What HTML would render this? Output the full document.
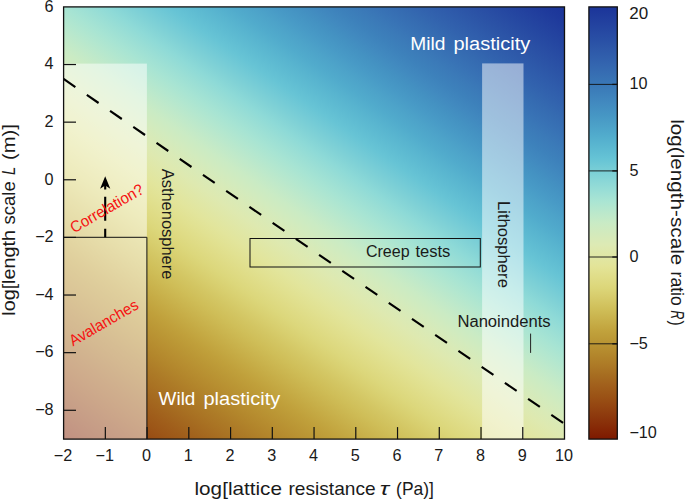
<!DOCTYPE html>
<html><head><meta charset="utf-8"><title>Chart</title>
<style>html,body{margin:0;padding:0;background:#fff}svg{display:block}text{font-family:"Liberation Sans",sans-serif}</style></head>
<body>
<svg width="685" height="500" viewBox="0 0 685 500">
<defs>
<linearGradient id="hg" gradientUnits="userSpaceOnUse" x1="63.60" y1="439.10" x2="427.31" y2="-87.80"><stop offset="0.0000" stop-color="#832104"/><stop offset="0.0185" stop-color="#872c08"/><stop offset="0.0370" stop-color="#8c370c"/><stop offset="0.0556" stop-color="#914110"/><stop offset="0.0741" stop-color="#974b13"/><stop offset="0.0926" stop-color="#9c5517"/><stop offset="0.1111" stop-color="#a05e1b"/><stop offset="0.1296" stop-color="#a4681f"/><stop offset="0.1481" stop-color="#a97223"/><stop offset="0.1667" stop-color="#ad7b27"/><stop offset="0.1852" stop-color="#b2852b"/><stop offset="0.2037" stop-color="#b78e30"/><stop offset="0.2222" stop-color="#bb9735"/><stop offset="0.2407" stop-color="#c0a03b"/><stop offset="0.2593" stop-color="#c5aa44"/><stop offset="0.2778" stop-color="#cab44e"/><stop offset="0.2963" stop-color="#cfbe58"/><stop offset="0.3148" stop-color="#d3c663"/><stop offset="0.3333" stop-color="#d8cf6f"/><stop offset="0.3519" stop-color="#dcd77b"/><stop offset="0.3704" stop-color="#dfdc86"/><stop offset="0.3889" stop-color="#e1e191"/><stop offset="0.4074" stop-color="#e2e59c"/><stop offset="0.4259" stop-color="#e0e7a6"/><stop offset="0.4444" stop-color="#dee9b0"/><stop offset="0.4630" stop-color="#d9eab7"/><stop offset="0.4815" stop-color="#d2ebbe"/><stop offset="0.5000" stop-color="#caebc4"/><stop offset="0.5185" stop-color="#bfe9ca"/><stop offset="0.5370" stop-color="#b3e7cf"/><stop offset="0.5556" stop-color="#a7e4d3"/><stop offset="0.5741" stop-color="#9bdfd5"/><stop offset="0.5926" stop-color="#8edad7"/><stop offset="0.6111" stop-color="#81d2d6"/><stop offset="0.6296" stop-color="#74cbd6"/><stop offset="0.6481" stop-color="#67c4d5"/><stop offset="0.6667" stop-color="#5fbcd2"/><stop offset="0.6852" stop-color="#58b4cf"/><stop offset="0.7037" stop-color="#51abcc"/><stop offset="0.7222" stop-color="#4da3c9"/><stop offset="0.7407" stop-color="#489ac6"/><stop offset="0.7593" stop-color="#4492c2"/><stop offset="0.7778" stop-color="#4189bf"/><stop offset="0.7963" stop-color="#3d81bb"/><stop offset="0.8148" stop-color="#3b7ab8"/><stop offset="0.8333" stop-color="#3872b5"/><stop offset="0.8519" stop-color="#356bb1"/><stop offset="0.8704" stop-color="#3263ae"/><stop offset="0.8889" stop-color="#2f5cab"/><stop offset="0.9074" stop-color="#2c55a7"/><stop offset="0.9259" stop-color="#294ea4"/><stop offset="0.9444" stop-color="#2547a1"/><stop offset="0.9630" stop-color="#22409e"/><stop offset="0.9815" stop-color="#1e399b"/><stop offset="1.0000" stop-color="#1b3499"/></linearGradient>
<linearGradient id="cg" gradientUnits="userSpaceOnUse" x1="0" y1="439.10" x2="0" y2="6.90"><stop offset="0.000" stop-color="#7e1900"/><stop offset="0.025" stop-color="#862806"/><stop offset="0.050" stop-color="#8c370c"/><stop offset="0.075" stop-color="#944511"/><stop offset="0.100" stop-color="#9b5316"/><stop offset="0.125" stop-color="#a1601c"/><stop offset="0.150" stop-color="#a76e21"/><stop offset="0.175" stop-color="#ae7c27"/><stop offset="0.200" stop-color="#b4892d"/><stop offset="0.225" stop-color="#ba9634"/><stop offset="0.250" stop-color="#c1a23c"/><stop offset="0.275" stop-color="#c8b04a"/><stop offset="0.300" stop-color="#cfbe58"/><stop offset="0.325" stop-color="#d6ca69"/><stop offset="0.350" stop-color="#dcd679"/><stop offset="0.375" stop-color="#e0dd88"/><stop offset="0.400" stop-color="#e3e498"/><stop offset="0.425" stop-color="#e0e7a6"/><stop offset="0.450" stop-color="#ddeab4"/><stop offset="0.475" stop-color="#d3eabc"/><stop offset="0.500" stop-color="#c9ebc5"/><stop offset="0.525" stop-color="#bae8cc"/><stop offset="0.550" stop-color="#aae5d3"/><stop offset="0.575" stop-color="#99ded6"/><stop offset="0.600" stop-color="#88d6d7"/><stop offset="0.625" stop-color="#76cdd6"/><stop offset="0.650" stop-color="#65c3d5"/><stop offset="0.675" stop-color="#5bb8d1"/><stop offset="0.700" stop-color="#52adcd"/><stop offset="0.725" stop-color="#4ca1c8"/><stop offset="0.750" stop-color="#4696c4"/><stop offset="0.775" stop-color="#428bc0"/><stop offset="0.800" stop-color="#3d80bb"/><stop offset="0.825" stop-color="#3976b6"/><stop offset="0.850" stop-color="#366cb2"/><stop offset="0.875" stop-color="#3262ae"/><stop offset="0.900" stop-color="#2e59a9"/><stop offset="0.925" stop-color="#294fa5"/><stop offset="0.950" stop-color="#2546a1"/><stop offset="0.975" stop-color="#203d9d"/><stop offset="1.000" stop-color="#1b3499"/></linearGradient>
</defs>
<rect x="0" y="0" width="685" height="500" fill="#fff"/>
<rect x="63.60" y="6.90" width="500.90" height="432.20" fill="url(#hg)"/>
<rect x="63.60" y="63.60" width="83.30" height="173.70" fill="#fff" fill-opacity="0.5"/>
<rect x="63.60" y="237.30" width="83.30" height="201.80" fill="#fff" fill-opacity="0.5"/>
<path d="M63.60 237.3 H146.9 V439.10" fill="none" stroke="#111" stroke-width="1"/>
<rect x="482.10" y="63.40" width="41.40" height="375.70" fill="#fff" fill-opacity="0.5"/>
<rect x="250.00" y="238.50" width="230.30" height="28.50" fill="none" stroke="#111" stroke-width="1"/>
<line x1="63.60" y1="78.90" x2="564.50" y2="423.90" stroke="#000" stroke-width="2.15" stroke-dasharray="14.3 13.9"/>
<path d="M105.2 185 V189.5 M105.2 196.7 V220.7 M105.2 228.8 V237.3" stroke="#000" stroke-width="2.1" fill="none"/>
<path d="M105.2 176.3 L110.3 188.8 L105.2 185.6 L100.1 188.8 Z" fill="#000"/>
<line x1="530.6" y1="333.6" x2="530.6" y2="352.9" stroke="#222" stroke-width="1"/>
<text x="410.20" y="49.50" font-size="18" fill="#fff" textLength="35.19" lengthAdjust="spacingAndGlyphs">Mild</text>
<text x="453.50" y="49.50" font-size="18" fill="#fff" textLength="76.71" lengthAdjust="spacingAndGlyphs">plasticity</text>
<text x="158.60" y="404.50" font-size="18" fill="#fff" textLength="36.81" lengthAdjust="spacingAndGlyphs">Wild</text>
<text x="203.50" y="404.50" font-size="18" fill="#fff" textLength="76.71" lengthAdjust="spacingAndGlyphs">plasticity</text>
<text x="365.90" y="256.50" font-size="15.8" fill="#1a1a1a" textLength="43.69" lengthAdjust="spacingAndGlyphs">Creep</text>
<text x="415.40" y="256.50" font-size="15.8" fill="#1a1a1a" textLength="35.00" lengthAdjust="spacingAndGlyphs">tests</text>
<text x="457.40" y="326.60" font-size="15.8" fill="#1a1a1a" textLength="93.30" lengthAdjust="spacingAndGlyphs">Nanoindents</text>
<text transform="translate(497.50 201.00) rotate(90)" x="-0.00" y="0" font-size="15.8" fill="#1a1a1a" textLength="86.90" lengthAdjust="spacingAndGlyphs">Lithosphere</text>
<text transform="translate(162.30 168.70) rotate(90)" x="-0.00" y="0" font-size="15.8" fill="#1a1a1a" textLength="110.70" lengthAdjust="spacingAndGlyphs">Asthenosphere</text>
<text x="74.00" y="233.50" font-size="15.8" fill="#f51212" text-anchor="start" textLength="82.00" lengthAdjust="spacingAndGlyphs" transform="rotate(-30 74.00 233.50)">Correlation?</text>
<text x="73.00" y="346.50" font-size="15.8" fill="#f51212" text-anchor="start" textLength="77.00" lengthAdjust="spacingAndGlyphs" transform="rotate(-30 73.00 346.50)">Avalanches</text>
<rect x="63.60" y="6.90" width="500.90" height="432.20" fill="none" stroke="#111" stroke-width="1.3"/>
<line x1="105.34" y1="439.10" x2="105.34" y2="427.10" stroke="#111" stroke-width="1.2"/>
<line x1="147.08" y1="439.10" x2="147.08" y2="427.10" stroke="#111" stroke-width="1.2"/>
<line x1="188.82" y1="439.10" x2="188.82" y2="427.10" stroke="#111" stroke-width="1.2"/>
<line x1="230.57" y1="439.10" x2="230.57" y2="427.10" stroke="#111" stroke-width="1.2"/>
<line x1="272.31" y1="439.10" x2="272.31" y2="427.10" stroke="#111" stroke-width="1.2"/>
<line x1="314.05" y1="439.10" x2="314.05" y2="427.10" stroke="#111" stroke-width="1.2"/>
<line x1="355.79" y1="439.10" x2="355.79" y2="427.10" stroke="#111" stroke-width="1.2"/>
<line x1="397.53" y1="439.10" x2="397.53" y2="427.10" stroke="#111" stroke-width="1.2"/>
<line x1="439.28" y1="439.10" x2="439.28" y2="427.10" stroke="#111" stroke-width="1.2"/>
<line x1="481.02" y1="439.10" x2="481.02" y2="427.10" stroke="#111" stroke-width="1.2"/>
<line x1="522.76" y1="439.10" x2="522.76" y2="427.10" stroke="#111" stroke-width="1.2"/>
<line x1="63.60" y1="410.29" x2="76.00" y2="410.29" stroke="#111" stroke-width="1.2"/>
<line x1="63.60" y1="352.66" x2="76.00" y2="352.66" stroke="#111" stroke-width="1.2"/>
<line x1="63.60" y1="295.03" x2="76.00" y2="295.03" stroke="#111" stroke-width="1.2"/>
<line x1="63.60" y1="237.41" x2="76.00" y2="237.41" stroke="#111" stroke-width="1.2"/>
<line x1="63.60" y1="179.78" x2="76.00" y2="179.78" stroke="#111" stroke-width="1.2"/>
<line x1="63.60" y1="122.15" x2="76.00" y2="122.15" stroke="#111" stroke-width="1.2"/>
<line x1="63.60" y1="64.53" x2="76.00" y2="64.53" stroke="#111" stroke-width="1.2"/>
<text x="63.10" y="461.30" font-size="16.2" fill="#1a1a1a" text-anchor="middle">−2</text>
<text x="104.84" y="461.30" font-size="16.2" fill="#1a1a1a" text-anchor="middle">−1</text>
<text x="146.58" y="461.30" font-size="16.2" fill="#1a1a1a" text-anchor="middle">0</text>
<text x="188.32" y="461.30" font-size="16.2" fill="#1a1a1a" text-anchor="middle">1</text>
<text x="230.07" y="461.30" font-size="16.2" fill="#1a1a1a" text-anchor="middle">2</text>
<text x="271.81" y="461.30" font-size="16.2" fill="#1a1a1a" text-anchor="middle">3</text>
<text x="313.55" y="461.30" font-size="16.2" fill="#1a1a1a" text-anchor="middle">4</text>
<text x="355.29" y="461.30" font-size="16.2" fill="#1a1a1a" text-anchor="middle">5</text>
<text x="397.03" y="461.30" font-size="16.2" fill="#1a1a1a" text-anchor="middle">6</text>
<text x="438.78" y="461.30" font-size="16.2" fill="#1a1a1a" text-anchor="middle">7</text>
<text x="480.52" y="461.30" font-size="16.2" fill="#1a1a1a" text-anchor="middle">8</text>
<text x="522.26" y="461.30" font-size="16.2" fill="#1a1a1a" text-anchor="middle">9</text>
<text x="564.00" y="461.30" font-size="16.2" fill="#1a1a1a" text-anchor="middle">10</text>
<text x="53.60" y="415.09" font-size="16.2" fill="#1a1a1a" text-anchor="end">−8</text>
<text x="53.60" y="357.46" font-size="16.2" fill="#1a1a1a" text-anchor="end">−6</text>
<text x="53.60" y="299.83" font-size="16.2" fill="#1a1a1a" text-anchor="end">−4</text>
<text x="53.60" y="242.21" font-size="16.2" fill="#1a1a1a" text-anchor="end">−2</text>
<text x="53.60" y="184.58" font-size="16.2" fill="#1a1a1a" text-anchor="end">0</text>
<text x="53.60" y="126.95" font-size="16.2" fill="#1a1a1a" text-anchor="end">2</text>
<text x="53.60" y="69.33" font-size="16.2" fill="#1a1a1a" text-anchor="end">4</text>
<text x="53.60" y="11.70" font-size="16.2" fill="#1a1a1a" text-anchor="end">6</text>
<text x="194.50" y="494.80" font-size="19" fill="#1a1a1a" textLength="87.49" lengthAdjust="spacingAndGlyphs">log[lattice</text>
<text x="288.50" y="494.80" font-size="19" fill="#1a1a1a" textLength="87.09" lengthAdjust="spacingAndGlyphs">resistance</text>
<text x="379.70" y="494.80" font-size="19" fill="#1a1a1a" textLength="9.31" lengthAdjust="spacingAndGlyphs" font-style="italic">τ</text>
<text x="396.10" y="494.80" font-size="19" fill="#1a1a1a" textLength="37.80" lengthAdjust="spacingAndGlyphs">(Pa)]</text>
<text transform="translate(14.80 315.70) rotate(-90)" x="-0.00" y="0" font-size="19" fill="#1a1a1a" textLength="85.60" lengthAdjust="spacingAndGlyphs">log[length</text>
<text transform="translate(14.80 224.40) rotate(-90)" x="-0.00" y="0" font-size="19" fill="#1a1a1a" textLength="43.11" lengthAdjust="spacingAndGlyphs">scale</text>
<text transform="translate(14.80 175.00) rotate(-90)" x="-0.00" y="0" font-size="19" fill="#1a1a1a" textLength="8.40" lengthAdjust="spacingAndGlyphs" font-style="italic">L</text>
<text transform="translate(14.80 159.90) rotate(-90)" x="-0.00" y="0" font-size="19" fill="#1a1a1a" textLength="35.70" lengthAdjust="spacingAndGlyphs">(m)]</text>
<rect x="588.90" y="6.90" width="28.40" height="432.20" fill="url(#cg)" stroke="#111" stroke-width="1.3"/>
<line x1="588.90" y1="84.40" x2="617.30" y2="84.40" stroke="#111" stroke-width="0.9"/>
<line x1="612.30" y1="84.40" x2="617.30" y2="84.40" stroke="#111" stroke-width="1.3"/>
<text x="629.40" y="88.50" font-size="16.2" fill="#1a1a1a" text-anchor="start">10</text>
<line x1="588.90" y1="170.90" x2="617.30" y2="170.90" stroke="#111" stroke-width="0.9"/>
<line x1="612.30" y1="170.90" x2="617.30" y2="170.90" stroke="#111" stroke-width="1.3"/>
<text x="629.40" y="176.00" font-size="16.2" fill="#1a1a1a" text-anchor="start">5</text>
<line x1="588.90" y1="257.00" x2="617.30" y2="257.00" stroke="#111" stroke-width="0.9"/>
<line x1="612.30" y1="257.00" x2="617.30" y2="257.00" stroke="#111" stroke-width="1.3"/>
<text x="629.40" y="262.10" font-size="16.2" fill="#1a1a1a" text-anchor="start">0</text>
<line x1="588.90" y1="343.80" x2="617.30" y2="343.80" stroke="#111" stroke-width="0.9"/>
<line x1="612.30" y1="343.80" x2="617.30" y2="343.80" stroke="#111" stroke-width="1.3"/>
<text x="629.40" y="348.90" font-size="16.2" fill="#1a1a1a" text-anchor="start">−5</text>
<text x="629.30" y="18.80" font-size="16.2" fill="#1a1a1a" textLength="18.91" lengthAdjust="spacingAndGlyphs">20</text>
<text x="629.40" y="438.40" font-size="16.2" fill="#1a1a1a" text-anchor="start">−10</text>
<text transform="translate(670.60 119.20) rotate(90)" x="-0.00" y="0" font-size="19" fill="#1a1a1a" textLength="146.09" lengthAdjust="spacingAndGlyphs">log(length-scale</text>
<text transform="translate(670.60 271.60) rotate(90)" x="-0.00" y="0" font-size="19" fill="#1a1a1a" textLength="34.21" lengthAdjust="spacingAndGlyphs">ratio</text>
<text transform="translate(670.60 310.60) rotate(90)" x="-0.00" y="0" font-size="19" fill="#1a1a1a" textLength="8.80" lengthAdjust="spacingAndGlyphs" font-style="italic">R</text>
<text transform="translate(670.60 320.60) rotate(90)" x="-0.00" y="0" font-size="19" fill="#1a1a1a" textLength="5.10" lengthAdjust="spacingAndGlyphs">)</text>
</svg></body></html>
